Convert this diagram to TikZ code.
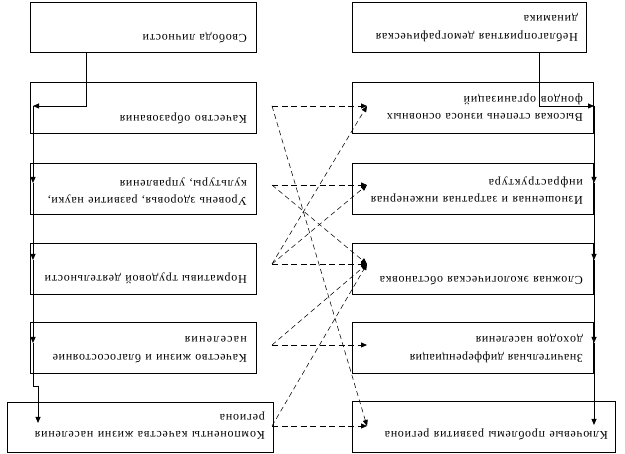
\documentclass[tikz,border=0pt]{standalone}
\usepackage{fontspec}
\setmainfont{Liberation Serif}
\usetikzlibrary{arrows.meta}
\ExplSyntaxOn
\tl_new:N \l_spread_tl
\NewDocumentCommand \spreadline { m m }
 {
  \tl_set:Nn \l_spread_tl { #2 }
  \tl_replace_all:Nnn \l_spread_tl { ~ } { \spreadspace }
  \hbox_to_wd:nn { #1 }
   { \tl_map_inline:Nn \l_spread_tl { ##1 \skip_horizontal:n { 0pt plus 1fil minus 1fil } } \unskip }
 }
\ExplSyntaxOff
\newcommand\spreadspace{\hskip 0.25em\relax}
\begin{document}
\begin{tikzpicture}[x=1pt,y=1pt,
  box/.style={draw, line width=0.8pt, inner sep=0pt, minimum height=50pt},
  txt/.style={inner sep=0pt, anchor=north west, rotate=180, align=left,
    font=\fontsize{12}{17.5}\selectfont},
  conn/.style={line width=0.8pt, -{Triangle[length=6pt,width=5pt]}},
  dh/.style={line width=0.75pt, dash pattern=on 6pt off 3.5pt, -{Triangle[length=6pt,width=5pt]}},
  dd/.style={line width=0.55pt, dash pattern=on 5pt off 3.5pt, -{Triangle[length=6pt,width=5pt]}}]
\useasboundingbox (0,0) rectangle (625,454);
% left column
\node[box, minimum width=226pt] (free) at (143,427) {};
\node[box, minimum width=226pt, minimum height=51pt] (edu) at (143,346.5) {};
\node[box, minimum width=226pt, minimum height=51pt] (health) at (143,265.5) {};
\node[box, minimum width=226pt, minimum height=51pt] (norm) at (143,185.5) {};
\node[box, minimum width=226pt, minimum height=51pt] (life) at (143,106.5) {};
\node[box, minimum width=266pt] (comp) at (140,27) {};
% right column
\node[box, minimum width=234pt] (demo) at (469,427) {};
\node[box, minimum width=241pt, minimum height=51pt] (wear) at (472.5,346.5) {};
\node[box, minimum width=241pt, minimum height=51pt] (infra) at (472.5,265.5) {};
\node[box, minimum width=241pt, minimum height=51pt] (eco) at (472.5,185.5) {};
\node[box, minimum width=241pt, minimum height=51pt] (income) at (472.5,106.5) {};
\node[box, minimum width=263pt, minimum height=51pt] (key) at (483.5,27.5) {};
% texts (upside down)
\node[txt] (free-t) at (247,411) {\spreadline{104pt}{Свобода личности}};
\node[txt] (edu-t) at (247,330) {\spreadline{127pt}{Качество образования}};
\node[txt] (health-t) at (247,248) {\spreadline{199pt}{Уровень здоровья, развитие науки,}\\\spreadline{127pt}{культуры, управления}};
\node[txt] (norm-t) at (247,170) {\spreadline{202pt}{Нормативы трудовой деятельности}};
\node[txt] (life-t) at (247,91) {\spreadline{194pt}{Качество жизни и благосостояние}\\\spreadline{62pt}{населения}};
\node[txt] (comp-t) at (265,14) {\spreadline{230pt}{Компоненты качества жизни населения}\\\spreadline{45pt}{региона}};
\node[txt] (demo-t) at (578,412) {\spreadline{202pt}{Неблагоприятная демографическая}\\\spreadline{54pt}{динамика}};
\node[txt] (wear-t) at (583,332) {\spreadline{196pt}{Высокая степень износа основных}\\\spreadline{119pt}{фондов организаций}};
\node[txt] (infra-t) at (583,249) {\spreadline{212pt}{Изношенная и затратная инженерная}\\\spreadline{94pt}{инфраструктура}};
\node[txt] (eco-t) at (583,169) {\spreadline{203pt}{Сложная экологическая обстановка}};
\node[txt] (income-t) at (583,91) {\spreadline{173pt}{Значительная дифференциация}\\\spreadline{107pt}{доходов населения}};
\node[txt] (key-t) at (608,14) {\spreadline{223pt}{Ключевые проблемы развития региона}};
% left trunk
\coordinate (jL0) at (86,348);
\coordinate (jL1) at (33,348);
\coordinate (jL2) at (33,271);
\coordinate (jL3) at (33,194);
\coordinate (jL4) at (33,111);
\coordinate (jL5) at (33,68);
\coordinate (jL6) at (38,68);
\coordinate (jL7) at (38,31);
\draw[conn] (free.south -| jL0) -- (jL0) -- (jL1);
\draw[conn] (jL1) -- (jL2);
\draw[conn] (jL2) -- (jL3);
\draw[conn] (jL3) -- (jL4);
\draw[conn] (jL4) -- (jL5) -- (jL6) -- (jL7);
% right trunk
\coordinate (jR0) at (539,348);
\coordinate (jR1) at (594,348);
\coordinate (jR2) at (594,271);
\coordinate (jR3) at (594,194);
\coordinate (jR4) at (594,111);
\coordinate (jR5) at (594,29);
\draw[conn] (demo.south -| jR0) -- (jR0) -- (jR1);
\draw[conn] (jR1) -- (jR2);
\draw[conn] (jR2) -- (jR3);
\draw[conn] (jR3) -- (jR4);
\draw[conn] (jR4) -- (jR5);
% dashed links
\coordinate (oedu) at (272,348);
\coordinate (ohealth) at (272,269);
\coordinate (onorm) at (272,190);
\coordinate (olife) at (272,109);
\coordinate (ocomp) at (272,28);
\coordinate (twear) at (367,348);
\coordinate (tinfra) at (367,269);
\coordinate (teco) at (367,190);
\coordinate (tincome) at (367,109);
\coordinate (tkey) at (367,28);
\draw[dh] (oedu) -- (twear);
\draw[dh] (ohealth) -- (tinfra);
\draw[dh] (onorm) -- (teco);
\draw[dh] (olife) -- (tincome);
\draw[dh] (ocomp) -- (tkey);
\draw[dd] (oedu) -- (tkey);
\draw[dd] (ohealth) -- (teco);
\draw[dd] (onorm) -- (twear);
\draw[dd] (onorm) -- (tinfra);
\draw[dd] (olife) -- (teco);
\draw[dd] (ocomp) -- (teco);
\end{tikzpicture}
\end{document}
